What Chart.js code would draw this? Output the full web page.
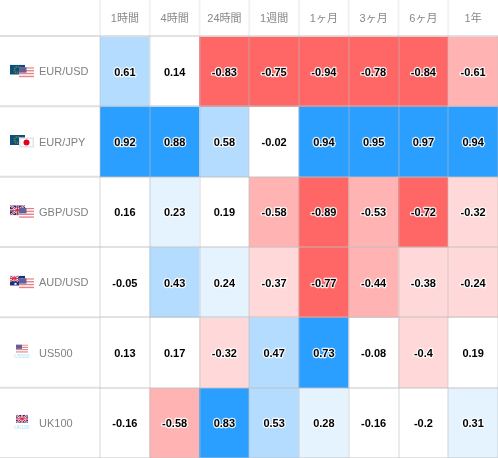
<!DOCTYPE html>
<html>
<head>
<meta charset="utf-8">
<script src="https://cdn.jsdelivr.net/npm/chart.js@4"></script>
<style>
    html, body { margin: 0; padding: 0; background: #fff; }
    #wrap { width: 498px; height: 458px; position: relative; }
</style>
</head>
<body>
<div id="wrap"><canvas id="heatmap"></canvas></div>
<script>
const periods = ['1時間', '4時間', '24時間', '1週間', '1ヶ月', '3ヶ月', '6ヶ月', '1年'];
const symbols = ['EUR/USD', 'EUR/JPY', 'GBP/USD', 'AUD/USD', 'US500', 'UK100'];
const flagPairs = [['eu', 'us'], ['eu', 'jp'], ['uk', 'us'], ['au', 'us'], ['us'], ['uk']];
const indexCaptions = [null, null, null, null, 'US500', 'UK100'];

const eurUsd = [0.61, 0.14, -0.83, -0.75, -0.94, -0.78, -0.84, -0.61];
const eurJpy = [0.92, 0.88, 0.58, -0.02, 0.94, 0.95, 0.97, 0.94];
const gbpUsd = [0.16, 0.23, 0.19, -0.58, -0.89, -0.53, -0.72, -0.32];
const audUsd = [-0.05, 0.43, 0.24, -0.37, -0.77, -0.44, -0.38, -0.24];
const us500 = [0.13, 0.17, -0.32, 0.47, 0.73, -0.08, -0.4, 0.19];
const uk100 = [-0.16, -0.58, 0.83, 0.53, 0.28, -0.16, -0.2, 0.31];
const rows = [eurUsd, eurJpy, gbpUsd, audUsd, us500, uk100];

const fontFamily = '"Liberation Sans", "Noto Sans CJK JP", sans-serif';

function cellColor(v) {
    if (v >= 0.7) return '#2b9fff';
    if (v >= 0.4) return '#b3dcff';
    if (v > 0.2) return '#e5f3ff';
    if (v >= -0.2) return '#ffffff';
    if (v > -0.42) return '#ffd9d9';
    if (v > -0.7) return '#ffb3b3';
    return '#ff6666';
}

// small flag icons, drawn relative to their top left corner
function drawFlag(ctx, kind, x, y, w, h) {
    ctx.save();
    ctx.beginPath();
    ctx.rect(x, y, w, h);
    ctx.clip();
    if (kind === 'us') {
        for (let i = 0; i < 7; i++) {
            ctx.fillStyle = i % 2 ? '#ffffff' : '#e8808a';
            ctx.fillRect(x, y + i * h / 7, w, h / 7 + 0.5);
        }
        ctx.fillStyle = '#62629a';
        ctx.fillRect(x, y, w * 0.5, h * 0.55);
    } else if (kind === 'jp') {
        ctx.fillStyle = '#ffffff';
        ctx.fillRect(x, y, w, h);
        ctx.strokeStyle = '#e4e4e4';
        ctx.strokeRect(x + 0.5, y + 0.5, w - 1, h - 1);
        ctx.fillStyle = '#e8001c';
        ctx.beginPath();
        ctx.arc(x + w / 2, y + h / 2, 3, 0, Math.PI * 2);
        ctx.fill();
    } else if (kind === 'eu') {
        ctx.fillStyle = '#0d4f78';
        ctx.fillRect(x, y, w, h);
        ctx.strokeStyle = '#5f8a4c';
        ctx.setLineDash([1, 1]);
        ctx.beginPath();
        ctx.arc(x + w / 2, y + h / 2, 3, 0, Math.PI * 2);
        ctx.stroke();
    } else {
        ctx.fillStyle = '#1c2f80';
        ctx.fillRect(x, y, w, h);
        const uw = kind === 'au' ? w * 0.55 : w;
        const uh = kind === 'au' ? h * 0.55 : h;
        ctx.strokeStyle = '#ffffff';
        ctx.lineWidth = 2;
        ctx.beginPath();
        ctx.moveTo(x, y); ctx.lineTo(x + uw, y + uh);
        ctx.moveTo(x + uw, y); ctx.lineTo(x, y + uh);
        ctx.moveTo(x + uw / 2, y); ctx.lineTo(x + uw / 2, y + uh);
        ctx.moveTo(x, y + uh / 2); ctx.lineTo(x + uw, y + uh / 2);
        ctx.stroke();
        ctx.strokeStyle = '#d8243c';
        ctx.lineWidth = 1;
        ctx.stroke();
        if (kind === 'au') {
            ctx.fillStyle = '#ffffff';
            ctx.fillRect(x + w * 0.3, y + h * 0.72, 2, 2);
            ctx.fillRect(x + w * 0.75, y + h * 0.25, 1.5, 1.5);
            ctx.fillRect(x + w * 0.75, y + h * 0.7, 1.5, 1.5);
        }
    }
    ctx.restore();
}

// separators of the header row and the label column, plus the flags
const framePlugin = {
    id: 'frame',
    beforeDatasetsDraw(chart) {
        const { ctx, chartArea, scales } = chart;
        ctx.save();
        ctx.lineWidth = 2;
        ctx.strokeStyle = '#f2f2f2';
        periods.forEach((p, i) => {
            const x = chartArea.left + i * (chartArea.right - chartArea.left) / periods.length;
            ctx.beginPath();
            ctx.moveTo(x, 0);
            ctx.lineTo(x, chartArea.top);
            ctx.stroke();
        });
        ctx.strokeStyle = '#e0e0e0';
        for (let i = 0; i <= symbols.length; i++) {
            const y = scales.y.getPixelForValue(i);
            ctx.beginPath();
            ctx.moveTo(0, y);
            ctx.lineTo(chartArea.left, y);
            ctx.stroke();
        }
        symbols.forEach((s, i) => {
            const cy = scales.y.getPixelForValue(i + 0.5);
            const flags = flagPairs[i];
            if (flags.length === 2) {
                drawFlag(ctx, flags[0], 10, cy - 6.5, 15, 10);
                drawFlag(ctx, flags[1], 19, cy - 4, 15, 10);
            } else {
                drawFlag(ctx, flags[0], 16, cy - 8, 12, 8);
                ctx.fillStyle = '#a5e4fa';
                ctx.font = '5px ' + fontFamily;
                ctx.textAlign = 'center';
                ctx.textBaseline = 'middle';
                ctx.fillText(indexCaptions[i], 22, cy + 4.5);
            }
        });
        ctx.restore();
    }
};

// value printed in the middle of each cell, with a white halo
const cellLabelPlugin = {
    id: 'cellLabels',
    afterDraw(chart) {
        const { ctx } = chart;
        ctx.save();
        ctx.font = 'bold 11px ' + fontFamily;
        ctx.textAlign = 'center';
        ctx.textBaseline = 'middle';
        ctx.lineJoin = 'round';
        rows.forEach((row, r) => {
            chart.getDatasetMeta(r).data.forEach((bar, c) => {
                const pt = bar.getCenterPoint();
                const text = String(row[c]);
                ctx.strokeStyle = 'rgba(255,255,255,0.85)';
                ctx.lineWidth = 2.5;
                ctx.strokeText(text, pt.x, pt.y + 1.5);
                ctx.fillStyle = '#000000';
                ctx.fillText(text, pt.x, pt.y + 1.5);
            });
        });
        ctx.restore();
    }
};

new Chart(document.getElementById('heatmap'), {
    type: 'bar',
    data: {
        labels: periods,
        datasets: rows.map((row, r) => ({
            label: symbols[r],
            data: row.map(() => 1),
            backgroundColor: row.map(cellColor),
            barPercentage: 1,
            categoryPercentage: 1,
            borderWidth: 0
        }))
    },
    plugins: [framePlugin, cellLabelPlugin],
    options: {
        responsive: true,
        maintainAspectRatio: false,
        animation: false,
        layout: { padding: { left: 39, top: 0, right: 0, bottom: 0 } },
        plugins: {
            legend: { display: false },
            tooltip: { enabled: false }
        },
        scales: {
            x: {
                position: 'top',
                stacked: true,
                afterFit(scale) {
                    scale.height = 36;
                    scale.paddingLeft = 0;
                    scale.paddingRight = 0;
                },
                border: { display: false },
                grid: {
                    offset: true,
                    z: 1,
                    lineWidth: 2,
                    color: 'rgba(190,190,190,0.3)',
                    drawTicks: false
                },
                ticks: {
                    padding: 10,
                    color: '#888888',
                    maxRotation: 0,
                    autoSkip: false,
                    font: { family: fontFamily, size: 11 }
                }
            },
            y: {
                stacked: true,
                reverse: true,
                min: 0,
                max: symbols.length,
                afterFit(scale) {
                    scale.width = 61;
                    scale.paddingTop = 0;
                    scale.paddingBottom = 0;
                },
                border: { display: false },
                grid: {
                    z: 1,
                    lineWidth: 2,
                    color: ctx => Number.isInteger(ctx.tick.value) ? 'rgba(190,190,190,0.45)' : 'transparent',
                    drawTicks: false
                },
                ticks: {
                    stepSize: 0.5,
                    autoSkip: false,
                    crossAlign: 'far',
                    padding: 0,
                    labelOffset: 1,
                    color: '#808080',
                    font: { family: fontFamily, size: 11 },
                    callback: v => Number.isInteger(v) ? '' : symbols[Math.floor(v)]
                }
            }
        }
    }
});
</script>
</body>
</html>
